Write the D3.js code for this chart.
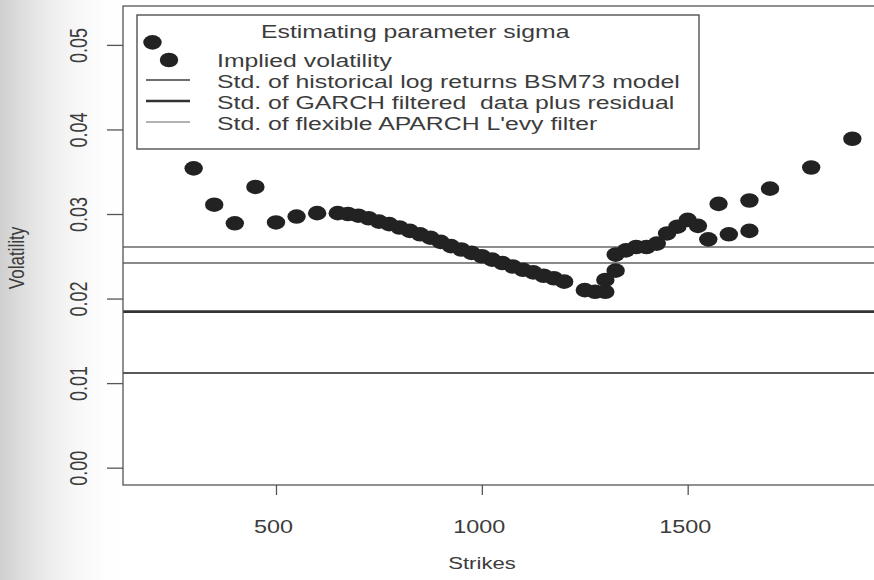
<!DOCTYPE html>
<html>
<head>
<meta charset="utf-8">
<script src="https://cdn.jsdelivr.net/npm/d3@7"></script>
<style>
  body { margin: 0; background: #fff; }
  text { font-family: "Liberation Sans", Arial, sans-serif; fill: #3c3c3c; white-space: pre; }
</style>
</head>
<body>
<svg id="chart"></svg>
<script>
var width = 874;
var height = 580;

// implied volatility by strike
var strikes = [200, 300, 350, 400, 450, 500, 550, 600,
  650, 675, 700, 725, 750, 775, 800, 825, 850, 875, 900, 925, 950, 975,
  1000, 1025, 1050, 1075, 1100, 1125, 1150, 1175, 1200,
  1250, 1275, 1300, 1300, 1325, 1325, 1350, 1375, 1400, 1425, 1450, 1475,
  1500, 1525, 1550, 1575, 1600, 1650, 1650, 1700, 1800, 1900];
var impliedVol = [0.0503, 0.0354, 0.0311, 0.0289, 0.0332, 0.0290, 0.0297, 0.0301,
  0.0301, 0.0300, 0.0298, 0.0295, 0.0291, 0.0288, 0.0284, 0.0280, 0.0276, 0.0272, 0.0267, 0.0262, 0.0258, 0.0254,
  0.0250, 0.0246, 0.0242, 0.0238, 0.0234, 0.0231, 0.0227, 0.0224, 0.0220,
  0.0210, 0.0208, 0.0208, 0.0222, 0.0233, 0.0252, 0.0257, 0.0261, 0.0261, 0.0265, 0.0277, 0.0285,
  0.0293, 0.0286, 0.0270, 0.0312, 0.0276, 0.0316, 0.0280, 0.0330, 0.0355, 0.0389];

// horizontal sigma estimates
var sigmaLevels = [0.0261, 0.0242, 0.01845, 0.0112];
var sigmaColors = ["#8e8e8e", "#8a8a8a", "#343434", "#595959"];
var sigmaWidths = [2, 2, 2.6, 2];

var legendTitle = "Estimating parameter sigma";
var legendLabels = ["Implied volatility",
  "Std. of historical log returns BSM73 model",
  "Std. of GARCH filtered  data plus residual",
  "Std. of flexible APARCH L'evy filter"];
var legendLineColors = ["#6e6e6e", "#333333", "#9a9a9a"];
var legendLineWidths = [2, 2.6, 1.6];

var xTicks = [500, 1000, 1500];
var yTicks = [0, 0.01, 0.02, 0.03, 0.04, 0.05];

var stretch = 1.3; // the scan is wider than tall
var legStretch = 1.34;

var svg = d3.select('#chart')
  .attr('width', width)
  .attr('height', height);

// grey scan shading on the left
var defs = svg.append('defs');
var grad = defs.append('linearGradient').attr('id', 'shade');
grad.append('stop').attr('offset', '0%').attr('stop-color', '#cfcfcf').attr('stop-opacity', 1);
grad.append('stop').attr('offset', '100%').attr('stop-color', '#ffffff').attr('stop-opacity', 0);
svg.append('rect').attr('x', 0).attr('y', 0).attr('width', 130).attr('height', height)
  .attr('fill', 'url(#shade)');

var x = d3.scaleLinear().domain([128.4, 1972]).range([123, 882]);
var y = d3.scaleLinear().domain([-0.00205, 0.0546]).range([485, 6]);

defs.append('clipPath').attr('id', 'plotclip')
  .append('rect').attr('x', 123).attr('y', 6).attr('width', 760).attr('height', 479);

var plot = svg.append('g').attr('clip-path', 'url(#plotclip)');

plot.selectAll('line.sigma')
  .data(sigmaLevels)
  .enter().append('line')
  .attr('class', 'sigma')
  .attr('x1', x.range()[0])
  .attr('x2', x.range()[1])
  .attr('y1', function(d){ return y(d); })
  .attr('y2', function(d){ return y(d); })
  .attr('stroke', function(d, i){ return sigmaColors[i]; })
  .attr('stroke-width', function(d, i){ return sigmaWidths[i]; });

plot.selectAll('ellipse.iv')
  .data(strikes)
  .enter().append('ellipse')
  .attr('class', 'iv')
  .attr('cx', function(d){ return x(d); })
  .attr('cy', function(d, i){ return y(impliedVol[i]); })
  .attr('rx', 9.2)
  .attr('ry', 7.3)
  .attr('fill', '#222');

// box
svg.append('rect')
  .attr('x', 123).attr('y', 6).attr('width', 780).attr('height', 479)
  .attr('fill', 'none').attr('stroke', '#555').attr('stroke-width', 1.3);

// axes
svg.append('g')
  .attr('transform', 'translate(0,485)')
  .call(d3.axisBottom(x).tickValues(xTicks).tickSize(10).tickSizeOuter(0).tickFormat(d3.format('d')))
  .call(function(g){
    g.select('.domain').remove();
    g.selectAll('line').attr('stroke', '#555').attr('stroke-width', 1.3);
    g.selectAll('text')
      .attr('y', 0).attr('dy', 0)
      .attr('transform', 'translate(-3,48) scale(' + stretch + ',1)')
      .style('font-size', '18px').attr('fill', '#3c3c3c');
  });

svg.append('g')
  .attr('transform', 'translate(123,0)')
  .call(d3.axisLeft(y).tickValues(yTicks).tickSize(16).tickSizeOuter(0).tickFormat(d3.format('.2f')))
  .call(function(g){
    g.select('.domain').remove();
    g.selectAll('line').attr('stroke', '#555').attr('stroke-width', 1.3);
    g.selectAll('text')
      .attr('x', 0).attr('dy', 0)
      .attr('text-anchor', 'middle')
      .attr('transform', 'translate(-36,0) scale(' + stretch + ',1) rotate(-90)')
      .style('font-size', '18px').attr('fill', '#3c3c3c');
  });

svg.append('text')
  .attr('transform', 'translate(482,569) scale(' + stretch + ',1)')
  .attr('text-anchor', 'middle')
  .style('font-size', '17px')
  .text('Strikes');

svg.append('text')
  .attr('transform', 'translate(24,258) scale(' + stretch + ',1) rotate(-90)')
  .attr('text-anchor', 'middle')
  .style('font-size', '17px')
  .text('Volatility');

// legend
var legend = svg.append('g');
legend.append('rect')
  .attr('x', 137).attr('y', 15).attr('width', 562).attr('height', 134)
  .attr('fill', '#fff').attr('stroke', '#444').attr('stroke-width', 1.3);

legend.append('text')
  .attr('transform', 'translate(261,37.5) scale(' + legStretch + ',1)')
  .style('font-size', '18.5px')
  .text(legendTitle);

legend.selectAll('text.entry')
  .data(legendLabels)
  .enter().append('text')
  .attr('class', 'entry')
  .attr('transform', function(d, i){ return 'translate(217,' + (66.7 + i * 21) + ') scale(' + legStretch + ',1)'; })
  .style('font-size', '18.5px')
  .text(function(d){ return d; });

legend.append('ellipse')
  .attr('cx', 169).attr('cy', 60).attr('rx', 9.2).attr('ry', 7.3).attr('fill', '#222');

legend.selectAll('line.key')
  .data(legendLineColors)
  .enter().append('line')
  .attr('class', 'key')
  .attr('x1', 146).attr('x2', 190)
  .attr('y1', function(d, i){ return 80 + i * 21; })
  .attr('y2', function(d, i){ return 80 + i * 21; })
  .attr('stroke', function(d){ return d; })
  .attr('stroke-width', function(d, i){ return legendLineWidths[i]; });

// the data point that sits on top of the legend
svg.append('ellipse')
  .attr('cx', x(strikes[0])).attr('cy', y(impliedVol[0]))
  .attr('rx', 9.2).attr('ry', 7.3).attr('fill', '#222');
</script>
</body>
</html>
